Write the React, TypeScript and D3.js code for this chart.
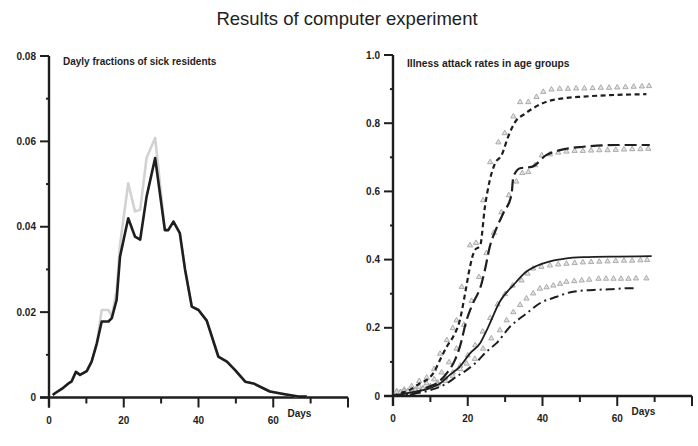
import React from 'react'
import * as d3 from 'd3'

// left panel: daily fraction of sick residents
const sickDays = [1, 1.6, 3.4, 5.2, 6, 7.2, 8.3, 10.1, 11.4, 12.8, 14.1, 15.9, 16.8, 18.1, 19, 21.2, 23, 24.4, 26.1, 28.4, 31, 31.9, 33.3, 35, 36.4, 38.2, 40, 42.2, 45.3, 47.6, 49.8, 52.5, 54.7, 59.1, 62.7, 66.7, 69]
const sickModel = [0.0006, 0.001, 0.002, 0.0033, 0.0037, 0.006, 0.0053, 0.0062, 0.0084, 0.0127, 0.0178, 0.0178, 0.0186, 0.0229, 0.033, 0.042, 0.0377, 0.037, 0.047, 0.0561, 0.0392, 0.0392, 0.0412, 0.0385, 0.03, 0.0213, 0.0205, 0.018, 0.0096, 0.0084, 0.0064, 0.0037, 0.0033, 0.0014, 0.0008, 0.0002, 0.0002]
const sickObserved = [0.0006, 0.001, 0.002, 0.0033, 0.0037, 0.006, 0.0053, 0.0062, 0.0084, 0.0127, 0.0205, 0.0205, 0.019, 0.025, 0.0358, 0.0502, 0.0436, 0.044, 0.0561, 0.0608, 0.0392, 0.0392, 0.0412, 0.0385, 0.03, 0.0213, 0.0205, 0.018, 0.0096, 0.0084, 0.0064, 0.0037, 0.0033, 0.0014, 0.0008, 0.0002, 0.0002]

// right panel: attack rates by age group, [day, rate]
const groupALine = [[0, 0], [1.9, 0.008], [4.5, 0.018], [7.2, 0.037], [9, 0.047], [10.8, 0.067], [12.6, 0.106], [14.4, 0.145], [16.1, 0.174], [17.9, 0.223], [19.3, 0.301], [20.6, 0.379], [21.9, 0.428], [23.3, 0.44], [24.6, 0.555], [25.9, 0.633], [27.3, 0.682], [29.1, 0.707], [30.8, 0.76], [33.1, 0.81], [34.8, 0.824], [37.5, 0.844], [41.1, 0.863], [45.5, 0.873], [50.9, 0.878], [59.8, 0.883], [67.8, 0.885]]
const groupAObs = [[1, 0.005], [3, 0.01], [5, 0.02], [7, 0.035], [9, 0.045], [11, 0.07], [12.6, 0.115], [14.4, 0.155], [16, 0.19], [17, 0.213], [18.4, 0.311], [20.6, 0.433], [22.2, 0.44], [24.1, 0.565], [26, 0.677], [28.2, 0.735], [29.9, 0.762], [32.2, 0.811], [34, 0.853], [36.2, 0.853], [38.4, 0.868], [40.2, 0.883], [42.4, 0.89], [44.6, 0.892], [46.8, 0.892], [49, 0.893], [51.2, 0.893], [53.4, 0.894], [55.6, 0.895], [57.8, 0.895], [60, 0.896], [62.2, 0.897], [64.4, 0.898], [66.6, 0.899], [68.5, 0.9]]

const groupBLine = [[0, 0], [5, 0.005], [9, 0.025], [11.7, 0.037], [14.4, 0.067], [16.6, 0.106], [17.9, 0.145], [19.7, 0.223], [21, 0.262], [23.7, 0.33], [24.6, 0.37], [25.9, 0.438], [27.5, 0.487], [29.5, 0.536], [31.7, 0.59], [32.2, 0.643], [34, 0.668], [37.1, 0.672], [41.1, 0.707], [44.7, 0.721], [50.9, 0.731], [59.8, 0.736], [68.7, 0.736]]
const groupBObs = [[1, 0.003], [3, 0.006], [5, 0.01], [7, 0.018], [9, 0.028], [11, 0.04], [13, 0.06], [15, 0.09], [17, 0.13], [19, 0.2], [21, 0.27], [23, 0.34], [25, 0.41], [27, 0.47], [29, 0.53], [31, 0.58], [33, 0.62], [34.6, 0.645], [36.2, 0.648], [38, 0.668], [39.8, 0.697], [42, 0.7], [44.2, 0.705], [46.4, 0.708], [48.6, 0.71], [50.8, 0.71], [53, 0.711], [55.2, 0.712], [57.4, 0.712], [59.6, 0.713], [61.8, 0.714], [64, 0.715], [66.2, 0.715], [68.3, 0.716]]

const groupCLine = [[0, 0], [4.5, 0.01], [9.9, 0.023], [12.6, 0.037], [15.2, 0.062], [17.9, 0.086], [20.6, 0.125], [23.3, 0.155], [25.5, 0.203], [28.6, 0.277], [32.2, 0.325], [35.7, 0.365], [38.5, 0.382], [42, 0.395], [46, 0.403], [50.9, 0.407], [60, 0.409], [69.2, 0.41]]
const groupCObs = [[2, 0.003], [4, 0.006], [6, 0.01], [8, 0.014], [10, 0.02], [12, 0.03], [14, 0.045], [16, 0.06], [18, 0.08], [20, 0.11], [22, 0.14], [24, 0.18], [26, 0.22], [28, 0.26], [30, 0.29], [32, 0.315], [34.4, 0.33], [36, 0.35], [37.5, 0.365], [39.7, 0.37], [42, 0.374], [44.2, 0.377], [46.4, 0.379], [48.6, 0.381], [50.8, 0.383], [53, 0.384], [55.2, 0.385], [57.4, 0.386], [59.6, 0.387], [61.8, 0.388], [64, 0.388], [66.2, 0.389], [68, 0.39]]

const groupDLine = [[0, 0], [5, 0.006], [10.8, 0.02], [14.4, 0.037], [17, 0.057], [19.7, 0.076], [22.4, 0.1], [25, 0.13], [27.7, 0.155], [31.3, 0.203], [35.7, 0.242], [39.3, 0.272], [43.8, 0.291], [48.2, 0.306], [53.6, 0.311], [58, 0.313], [62.9, 0.316], [64.5, 0.316]]
const groupDObs = [[2, 0.002], [4, 0.005], [6, 0.008], [8, 0.012], [10, 0.018], [12, 0.025], [14, 0.035], [16, 0.05], [18, 0.07], [19.7, 0.086], [21.9, 0.1], [24.1, 0.13], [26.3, 0.16], [28.6, 0.184], [30.4, 0.213], [32.2, 0.237], [34, 0.258], [35.7, 0.277], [37.5, 0.292], [39.3, 0.306], [41.1, 0.31], [42.9, 0.315], [44.7, 0.32], [46.4, 0.326], [48.5, 0.328], [50.5, 0.33], [52.5, 0.332], [55, 0.335], [57, 0.335], [59, 0.335], [61, 0.335], [63, 0.335], [65, 0.336], [67.8, 0.336]]

const dayTicks = [0, 10, 20, 30, 40, 50, 60, 70, 80]
const dayLabels = [0, 20, 40, 60]
const sickTicks = [0, 0.01, 0.02, 0.03, 0.04, 0.05, 0.06, 0.07, 0.08]
const sickLabels = ['0', '', '0.02', '', '0.04', '', '0.06', '', '0.08']
const rateTicks = [0, 0.1, 0.2, 0.3, 0.4, 0.5, 0.6, 0.7, 0.8, 0.9, 1.0]
const rateLabels = ['0', '', '0.2', '', '0.4', '', '0.6', '', '0.8', '', '1.0']

const W = 698
const H = 446
const font = 'Liberation Sans, Arial, sans-serif'
const ink = '#1e1e1e'

type Series = { pts: number[][]; dash: string; width: number }

function Axes({ x, y, ticks, labels }: any) {
    const [x0, x1] = x.range()
    const y0 = y(0)
    const yTop = y(ticks[ticks.length - 1])
    return (
        <g fontFamily={font} fontWeight="bold" fontSize={10} fill={ink}>
            <line x1={x0 - 9} x2={x1} y1={y0} y2={y0} stroke={ink} strokeWidth={2.4} />
            <line x1={x(0)} x2={x(0)} y1={yTop} y2={y0 + 10} stroke={ink} strokeWidth={2.4} />
            {dayTicks.map(d => (
                <line key={d} x1={x(d)} x2={x(d)} y1={y0} y2={y0 + (d % 20 === 0 ? 10 : 6)} stroke={ink} strokeWidth={2} />
            ))}
            {dayLabels.map(d => (
                <text key={d} x={x(d)} y={y0 + 26} textAnchor="middle">{d}</text>
            ))}
            <text x={x(67)} y={y0 + 19} textAnchor="middle">Days</text>
            {ticks.map((t: number, i: number) => (
                <line key={t} x1={x(0) - (labels[i] ? 9 : 3)} x2={x(0)} y1={y(t)} y2={y(t)} stroke={ink} strokeWidth={2} />
            ))}
            {ticks.map((t: number, i: number) => labels[i] ? (
                <text key={t} x={x(0) - 13} y={y(t) + 3.5} textAnchor="end">{labels[i]}</text>
            ) : null)}
        </g>
    )
}

function App() {
    const xL = d3.scaleLinear().domain([0, 80]).range([49, 348])
    const yL = d3.scaleLinear().domain([0, 0.08]).range([397.5, 56])
    const xR = d3.scaleLinear().domain([0, 80]).range([393, 692])
    const yR = d3.scaleLinear().domain([0, 1]).range([396, 55])

    const sickLine = d3.line<number>().x((_, i) => xL(sickDays[i])).y(v => yL(v))
    const rateLine = d3.line<number[]>().x(d => xR(d[0])).y(d => yR(d[1])).curve(d3.curveMonotoneX)
    const tri = d3.symbol().type(d3.symbolTriangle).size(12)()

    const lines: Series[] = [
        { pts: groupALine, dash: '5,3.5', width: 2.2 },
        { pts: groupBLine, dash: '12,5', width: 2.2 },
        { pts: groupCLine, dash: '', width: 1.8 },
        { pts: groupDLine, dash: '9,4,2,4', width: 2 },
    ]
    const observed = [groupAObs, groupBObs, groupCObs, groupDObs]

    return (
        <svg width={W} height={H} style={{ position: 'absolute', left: 0, top: 0, background: '#fff' }}>
            <text x={347} y={25} textAnchor="middle" fontFamily={font} fontSize={18.5} fill="#222">
                Results of computer experiment
            </text>

            <Axes x={xL} y={yL} ticks={sickTicks} labels={sickLabels} />
            <text x={63} y={64.5} fontFamily={font} fontWeight="bold" fontSize={10} fill={ink}>
                Dayly fractions of sick residents
            </text>
            <path d={sickLine(sickObserved) || ''} fill="none" stroke="#d2d2d2" strokeWidth={2.6} strokeLinejoin="round" />
            <path d={sickLine(sickModel) || ''} fill="none" stroke={ink} strokeWidth={2.6} strokeLinejoin="round" />

            <Axes x={xR} y={yR} ticks={rateTicks} labels={rateLabels} />
            <text x={407} y={66.5} fontFamily={font} fontWeight="bold" fontSize={10.3} fill={ink}>
                Illness attack rates in age groups
            </text>
            {observed.map((obs, k) => (
                <g key={k}>
                    {obs.map((d, i) => (
                        <path key={i} d={tri || ''} transform={`translate(${xR(d[0])},${yR(d[1]) - 3})`}
                            fill="#e2e2e2" stroke="#9a9a9a" strokeWidth={0.8} />
                    ))}
                </g>
            ))}
            {lines.map((s, k) => (
                <path key={k} d={rateLine(s.pts) || ''} fill="none" stroke={ink}
                    strokeWidth={s.width} strokeDasharray={s.dash} />
            ))}
        </svg>
    )
}

export default App
